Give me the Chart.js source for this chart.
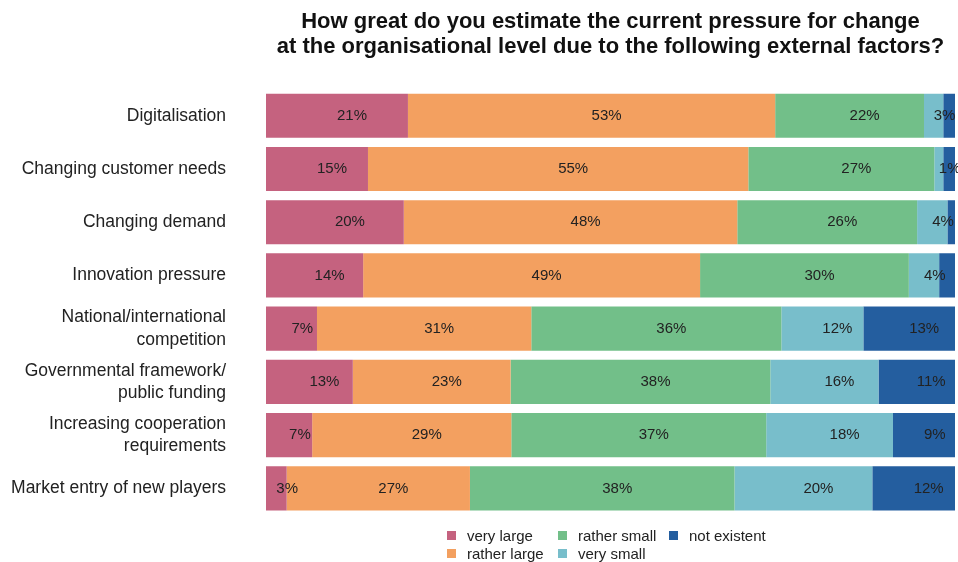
<!DOCTYPE html>
<html>
<head>
<meta charset="utf-8">
<script src="https://cdn.jsdelivr.net/npm/chart.js@4.4.1/dist/chart.umd.min.js"></script>
<style>
    html, body { margin: 0; padding: 0; background: #fff; }
    #wrap { position: relative; width: 958px; height: 562px; }
    #legend {
        position: absolute; left: 447px; top: 526px;
        display: grid; grid-auto-flow: column;
        grid-template-rows: 18px 18px; grid-template-columns: 111px 111px auto;
        font: 15px "Liberation Sans", Arial, sans-serif; color: #222;
    }
    #legend .item { display: flex; align-items: center; white-space: nowrap; }
    #legend .box { width: 9px; height: 9px; margin-right: 11px; }
</style>
</head>
<body>
<div id="wrap">
    <canvas id="pressureChart" width="958" height="562"></canvas>
    <div id="legend"></div>
</div>
<script>
// categories (top to bottom)
const factors = [
    'Digitalisation',
    'Changing customer needs',
    'Changing demand',
    'Innovation pressure',
    ['National/international', 'competition'],
    ['Governmental framework/', 'public funding'],
    ['Increasing cooperation', 'requirements'],
    'Market entry of new players'
];

// answer shares in percent
const veryLarge    = [20.6, 14.8, 20.0, 14.1,  7.4, 12.6,  6.7,  3.0];
const ratherLarge  = [53.3, 55.2, 48.4, 48.9, 31.1, 22.9, 28.9, 26.6];
const ratherSmall  = [21.6, 27.0, 26.1, 30.3, 36.3, 37.7, 37.0, 38.4];
const verySmall    = [ 2.8,  1.3,  4.4,  4.4, 11.9, 15.7, 18.4, 20.0];
const notExistent  = [ 1.7,  1.7,  1.1,  2.3, 13.3, 11.1,  9.0, 12.0];

const seriesNames  = ['very large', 'rather large', 'rather small', 'very small', 'not existent'];
const seriesColors = ['#C5627F', '#F3A060', '#72BF89', '#78BECB', '#245E9F'];

const FONT = '"Liberation Sans", Arial, Helvetica, sans-serif';

// draws the % values inside the bars (left edge of text at the middle of the segment)
const barLabels = {
    id: 'barLabels',
    afterDatasetsDraw(chart) {
        const ctx = chart.ctx;
        ctx.save();
        ctx.font = '15px ' + FONT;
        ctx.fillStyle = '#222';
        ctx.textAlign = 'left';
        ctx.textBaseline = 'middle';
        chart.data.datasets.forEach((ds, di) => {
            const meta = chart.getDatasetMeta(di);
            meta.data.forEach((bar, i) => {
                const v = ds.data[i];
                // last segment sits against the edge, skip the tiny ones
                if (di === chart.data.datasets.length - 1 && v < 3) return;
                const cx = (bar.x + bar.base) / 2;
                ctx.fillText(Math.round(v) + '%', cx, bar.y);
            });
        });
        ctx.restore();
    }
};

const values = [veryLarge, ratherLarge, ratherSmall, verySmall, notExistent];

const chart = new Chart(document.getElementById('pressureChart'), {
    type: 'bar',
    data: {
        labels: factors,
        datasets: values.map((arr, i) => ({
            label: seriesNames[i],
            data: arr,
            backgroundColor: seriesColors[i],
            borderWidth: 0,
            categoryPercentage: 1,
            barPercentage: 0.83
        }))
    },
    options: {
        indexAxis: 'y',
        responsive: false,
        animation: false,
        layout: { padding: { left: 0, right: 3, top: 0, bottom: 47 } },
        scales: {
            x: {
                stacked: true, min: 0, max: 100, display: false
            },
            y: {
                stacked: true,
                grid: { display: false },
                border: { display: false },
                ticks: {
                    color: '#222',
                    padding: 32,
                    font: { family: FONT, size: 17.5, lineHeight: 1.26 }
                },
                afterFit(scale) { scale.width = 266; }
            }
        },
        plugins: {
            legend: { display: false },
            tooltip: { enabled: false },
            title: {
                display: true,
                fullSize: false,
                text: ['How great do you estimate the current pressure for change',
                       'at the organisational level due to the following external factors?'],
                color: '#111',
                font: { family: FONT, size: 22, weight: 'bold', lineHeight: 1.14 },
                padding: { top: 9, bottom: 30 }
            }
        }
    },
    plugins: [barLabels]
});

// legend laid out column-wise, two rows
const legendEl = document.getElementById('legend');
chart.data.datasets.forEach(ds => {
    const item = document.createElement('div');
    item.className = 'item';
    item.innerHTML = `<span class="box" style="background:${ds.backgroundColor}"></span>${ds.label}`;
    legendEl.appendChild(item);
});
</script>
</body>
</html>
